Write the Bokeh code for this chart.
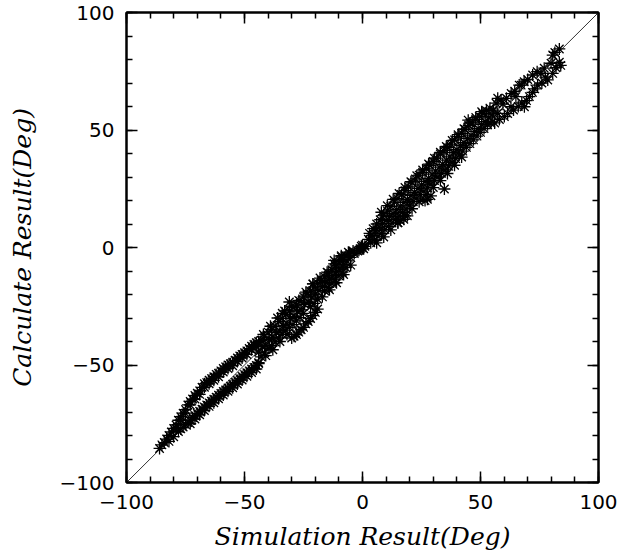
from bokeh.plotting import figure
from bokeh.models import Range1d, FixedTicker, LinearAxis, CustomJSTickFormatter
from bokeh.embed import file_html
from bokeh.resources import INLINE

# ---- data (Simulation vs Calculate, degrees) ----
a_sim = [-86,-85,-84,-83,-82,-81,-80,-79,-78,-77,-76,-75,-74,-73,-72,-71,-70,-69,-68,-67,-66,-65,-64,-63,-62,-61,-60,-59,-58,-57,-56,-55,-54,-53,-52,-51,-50,-49,-48,-47,-46,-45,-44]
a_calc = [-85.5,-84,-83,-81.5,-80,-78.5,-77,-75.5,-73.5,-72,-70.5,-69,-67,-65.5,-64.5,-63,-62,-61,-59.5,-58,-57.5,-56.5,-55.8,-55,-54,-53.5,-52.5,-51.5,-50.8,-50,-49.5,-48.8,-48,-47,-46.2,-45.5,-44.8,-44,-43,-42,-41.3,-40.5,-40]

a2_sim = [-79,-77,-75,-73,-71,-69,-67,-65,-63,-61,-59,-57,-55,-53,-51,-49,-47,-45]
a2_calc = [-77,-73.5,-70.5,-67,-64.5,-62.5,-59.5,-58,-56.5,-55,-53,-51.5,-50.3,-48.5,-47,-45.5,-43.5,-42]

b_sim = [-82,-80,-78,-77,-76,-75,-74,-73,-72,-71,-70,-69,-68,-67,-66,-65,-64,-63,-62,-61,-60,-59,-58,-57,-56,-55,-54,-53,-52,-51,-50,-49,-48,-47,-46,-45,-44]
b_calc = [-82.5,-80.5,-78.3,-77.2,-76.4,-75.3,-74.5,-73.6,-72.4,-71.5,-70.6,-69.7,-68.8,-67.9,-67,-66.1,-65.4,-64.6,-63.7,-62.9,-62.1,-61.3,-60.6,-59.8,-59,-58.2,-57.4,-56.6,-55.8,-54.9,-54.1,-53.3,-52.5,-51.7,-51,-50.2,-49.4]

b2_sim = [-73,-71,-69,-67,-65,-63,-61,-59,-57,-55,-53,-51,-49,-47,-45]
b2_calc = [-75,-73,-71.2,-69.4,-67.6,-66.1,-64.4,-62.8,-61.2,-59.7,-58.1,-56.4,-54.8,-53.2,-51.7]

c1_sim = [-43,-41.5,-40,-38.5,-37,-35.5,-34,-32.5,-31,-29.5,-28,-26.5,-25,-23.5,-22,-20.5,-19,-17.5,-16,-14.5,-13,-11.5,-10,-8.5,-7,-5.5,-4]
c1_calc = [-39.5,-38,-36,-34.8,-33.5,-31.5,-30.2,-28.5,-27,-25.6,-24.5,-22.8,-21,-19.8,-18.5,-16.8,-15.2,-14,-12.5,-10.8,-9.5,-7.8,-6.5,-5,-3.6,-2.4,-1.5]

c2_sim = [-44,-42.5,-41,-39.5,-38,-36.5,-35,-33.5,-32,-30.5,-29,-27.5,-26,-24.5,-23,-21.5,-20,-18.5,-17,-15.5,-14,-12.5,-11,-9.5,-8,-6.5,-5,-3.5,-2]
c2_calc = [-44.5,-42.2,-41.6,-39.2,-38.4,-36.1,-35.5,-33.2,-32.6,-30.1,-29.4,-27.1,-26.5,-24.2,-23.3,-21.1,-19.8,-18.2,-16.6,-15,-13.4,-12,-10.2,-8.8,-7.2,-5.7,-4.2,-2.6,-1.5]

c3_sim = [-43,-41.5,-40,-38.5,-37,-35.5,-34,-32.5,-31,-16,-14.5,-13,-11.5,-10,-8.5,-7]
c3_calc = [-46.5,-44.8,-43,-41.8,-40.2,-38.5,-37,-35.2,-34,-18.5,-17,-15.2,-13.8,-12,-10.5,-8.6]

c4_sim = [-30,-29,-28,-27,-26,-25,-24,-23,-22,-21,-20,-19,-29.5,-28,-26.5,-25,-22,-20.5,-19]
c4_calc = [-38.5,-37.8,-37,-36,-35,-34,-32.5,-31.5,-30.2,-29,-27.6,-26.2,-32.8,-31.2,-29.8,-28,-25.2,-23.8,-22]

c5_sim = [-31,-34,-21,-12,-9]
c5_calc = [-23.2,-28,-15.5,-5.5,-3.5]

c6_sim = [-42,-39,-36,-33,-30,-27,-24,-21,-18,-15,-12,-9,-6]
c6_calc = [-37,-33.5,-30,-27,-25,-22.5,-19,-15.5,-13,-10.5,-7,-4,-2]

c7_sim = [-44,-41,-38,-35,-32,-17,-14,-11,-8,-5]
c7_calc = [-49,-46,-43.5,-40,-37,-21,-18,-15,-11.5,-7.5]

d_sim = [-1,-0.5,0,0,0.5,1,-1.5]
d_calc = [-0.5,0.5,0,1,-0.5,0.5,-1.2]

e1_sim = [3,4.5,6,7.5,9,10.5,12,13.5,15,16.5,18,19.5,21,22.5,24,25.5,27,28.5,30,31.5,33,34.5,36,37.5,39,40.5,42,43.5,45,46.5,48,49.5,51,52.5,54]
e1_calc = [6,8,10,11.8,13.8,15.6,17.5,19.3,20.8,22.6,24.2,25.8,27.5,29.2,30.8,32,33.5,35,36.6,38,39.8,41.2,42.6,44,45.8,47.2,48.6,50.2,52,53,54.5,55.8,57,58.2,59.3]

e2_sim = [2.5,4,5.5,7,8.5,10,11.5,13,14.5,16,17.5,19,20.5,22,23.5,25,26.5,28,29.5,31,32.5,34,35.5,37,38.5,40,41.5,43,44.5,46,47.5,49,50.5,52,53.5,55]
e2_calc = [3.5,5.2,7.2,8.6,10.2,11.6,13.2,14.4,16.2,17.6,19.2,20.4,22.2,23.5,25.2,26.6,28.2,29.4,31.2,32.6,34.2,35.4,37.2,38.6,40.4,41.6,43.4,44.6,46.4,47.8,49.4,50.6,52.4,53.6,55.2,56.4]

e3_sim = [3.5,5,6.5,8,9.5,11,12.5,14,15.5,17,18.5,20,21.5,23,24.5,26,27.5,29,30.5,32,33.5,35,36.5,38,39.5,41,42.5,44,45.5,47,48.5,50,51.5,53]
e3_calc = [2,3.2,4.8,6,7.6,9,10.4,12,13.4,15,16.4,18,19.5,21,22.5,24,25.4,27,28.5,30,31.6,33,34.6,36.2,37.8,39.4,41,42.6,44.2,45.8,47.4,49,50.6,52.2]

e4_sim = [16,17.5,19,15,26.5,27.5,29,34.7,44.8]
e4_calc = [11.5,12,13.5,10.5,20,20.5,22,24.9,54.2]

e5_sim = [8,10.5,13,15.5,18,20.5,23,25.5,28,30.5,33,35.5,38,40.5,43,45.5,48,50.5]
e5_calc = [15,17.8,20.5,23,25.5,28,30.5,33,35.5,38,40.5,43,45.5,48,50.5,53,55.3,57.8]

e6_sim = [6,9,12,15,18,21,24,27,30,33,36,39,42]
e6_calc = [2,4.5,7.5,10.5,13.5,16.5,19.5,22.5,25.5,28.5,31.5,35,38.5]

f_sim = [83.4,80.6,83.4,79.9,77,80.6,78.5,72.1,74.2,70.7,67.2,75.6,68.6,65,62.9,58.7,57.3,60.1,54.4,56.6,66.4,57.3,
         56,58,61.5,64,66,67.5,69.5,72,73,76,77.5,82,84,
         55.5,59.5,61,63,64.5,68.5,70,74,81.5]
f_calc = [84.5,81.9,78.8,78.4,76.3,74.1,71.3,73.4,69.1,64.2,69.1,74.1,59.9,64.2,59.9,62.8,57.1,55.7,52.9,61.4,69.1,63.5,
          53,54.5,57,58.5,60,61.5,62.5,66,67.5,70,72.5,76.5,77.5,
          58.5,61,63.5,65.5,66.5,70.5,71.5,74.8,83]

diag = [-100, 100]

sim = (a_sim + a2_sim + b_sim + b2_sim + c1_sim + c2_sim + c3_sim + c4_sim + c5_sim + c6_sim + c7_sim
       + d_sim + e1_sim + e2_sim + e3_sim + e4_sim + e5_sim + e6_sim + f_sim)
calc = (a_calc + a2_calc + b_calc + b2_calc + c1_calc + c2_calc + c3_calc + c4_calc + c5_calc + c6_calc + c7_calc
        + d_calc + e1_calc + e2_calc + e3_calc + e4_calc + e5_calc + e6_calc + f_calc)

p = figure(width=619, height=558, output_backend="svg", toolbar_location=None,
           x_range=Range1d(-100, 100), y_range=Range1d(-100, 100),
           min_border_left=126, min_border_right=21, min_border_top=12, min_border_bottom=76)
p.grid.visible = False
p.outline_line_color = "black"
p.outline_line_width = 2
p.background_fill_color = "white"
p.border_fill_color = "white"

major = [-100, -50, 0, 50, 100]
minor = list(range(-100, 101, 10))

def style(ax, labels=True):
    ax.ticker = FixedTicker(ticks=major, minor_ticks=minor)
    ax.axis_line_color = "black"
    ax.axis_line_width = 2
    ax.major_tick_in = 11
    ax.major_tick_out = 0
    ax.minor_tick_in = 6
    ax.minor_tick_out = 0
    ax.major_tick_line_width = 1.5
    ax.minor_tick_line_width = 1.5
    ax.major_tick_line_color = "black"
    ax.minor_tick_line_color = "black"
    if labels:
        ax.major_label_text_font = "DejaVu Sans"
        ax.major_label_text_font_size = "20px"
        ax.major_label_text_color = "black"
        ax.major_label_standoff = 12
        ax.axis_label_text_font = "DejaVu Serif"
        ax.axis_label_text_font_style = "italic"
        ax.axis_label_text_font_size = "25px"
        ax.axis_label_text_color = "black"
    else:
        ax.formatter = CustomJSTickFormatter(code="return '';")
        ax.major_label_standoff = 0

style(p.xaxis[0])
style(p.yaxis[0])
p.xaxis[0].axis_label = "Simulation Result(Deg)"
p.yaxis[0].axis_label = "Calculate Result(Deg)"
p.xaxis[0].axis_label_standoff = 10
p.yaxis[0].axis_label_standoff = 20

top = LinearAxis()
right = LinearAxis()
style(top, labels=False)
style(right, labels=False)
p.add_layout(top, "above")
p.add_layout(right, "right")

p.line(diag, diag, line_color="#333333", line_width=1)
p.scatter(sim, calc, marker="asterisk", size=12, line_color="black", line_width=1.3)

open("out.html", "w").write(file_html(p, INLINE))
